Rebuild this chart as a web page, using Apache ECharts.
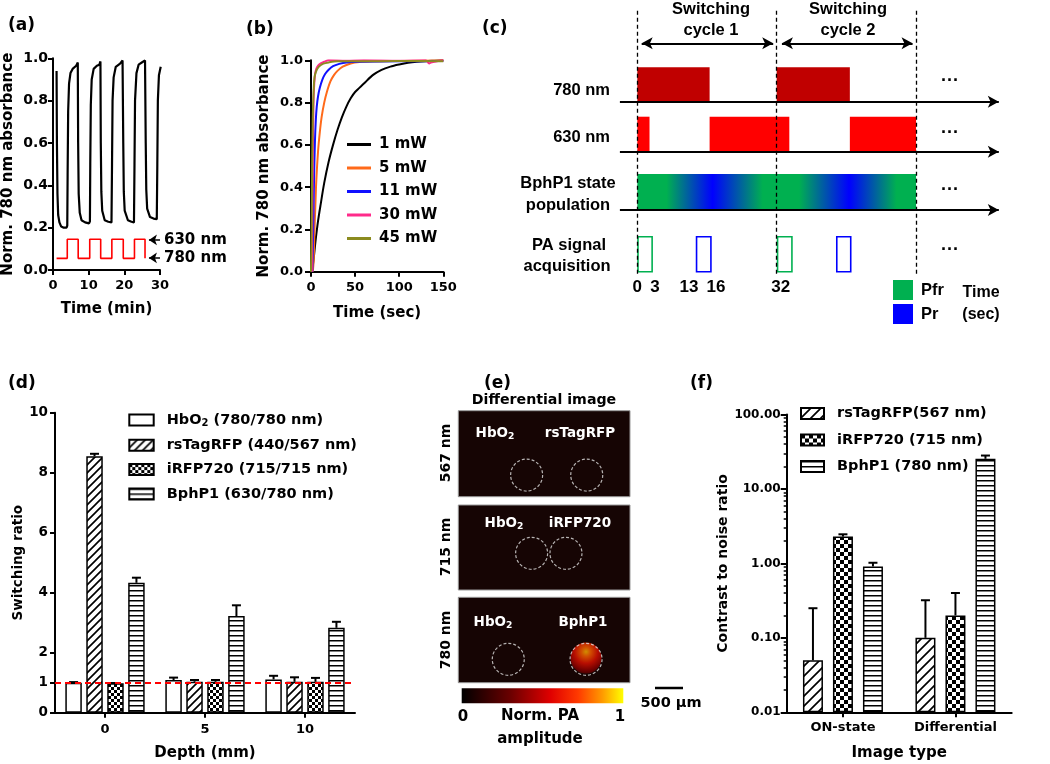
<!DOCTYPE html>
<html>
<head>
<meta charset="utf-8">
<script src="https://cdn.jsdelivr.net/npm/echarts@6/dist/echarts.min.js"></script>
<style>
  html, body { margin: 0; padding: 0; background: #fff; }
  #main { width: 1050px; height: 764px; }
</style>
</head>
<body>
<div id="main"></div>
<script>
// ---------- data ----------
// (a) repeated photoswitching, [time (min), norm. absorbance]
var cycleData = [
  [1.0, 0.94], [1.1, 0.6], [1.25, 0.36], [1.45, 0.26], [1.8, 0.225], [2.3, 0.205], [3.0, 0.2], [3.8, 0.2], [4.0, 0.21],
  [4.1, 0.45], [4.25, 0.75], [4.5, 0.88], [4.9, 0.93], [5.5, 0.95], [6.5, 0.965], [6.95, 0.98],
  [7.05, 0.6], [7.2, 0.36], [7.5, 0.27], [8.0, 0.235], [9.0, 0.225], [10.1, 0.22], [10.35, 0.23],
  [10.45, 0.5], [10.6, 0.78], [10.85, 0.9], [11.4, 0.95], [12.3, 0.965], [13.0, 0.97], [13.3, 0.985],
  [13.4, 0.6], [13.55, 0.37], [13.8, 0.28], [14.5, 0.235], [15.5, 0.228], [16.4, 0.225],
  [16.55, 0.5], [16.7, 0.8], [17.0, 0.91], [17.6, 0.96], [18.8, 0.975], [19.5, 0.99],
  [19.7, 0.6], [19.85, 0.37], [20.1, 0.28], [21.0, 0.235], [22.0, 0.228], [22.7, 0.225],
  [22.85, 0.5], [23.0, 0.8], [23.4, 0.93], [24.0, 0.97], [24.9, 0.98], [25.8, 0.99],
  [26.0, 0.6], [26.15, 0.38], [26.4, 0.29], [27.2, 0.25], [28.2, 0.243], [29.1, 0.24],
  [29.25, 0.5], [29.4, 0.8], [29.7, 0.92], [30.2, 0.96]
];
var lightTime  = [1.0, 4.0, 4.0, 7.06, 7.06, 10.3, 10.3, 13.37, 13.37, 16.5, 16.5, 19.7, 19.7, 22.84, 22.84, 25.8, 25.8];
var lightLevel = [0.055, 0.055, 0.145, 0.145, 0.055, 0.055, 0.145, 0.145, 0.055, 0.055, 0.145, 0.145, 0.055, 0.055, 0.145, 0.145, 0.055];

// (b) switching kinetics at different powers, [time (sec), norm. absorbance]
var curve1mW = [[1, 0], [3, 0.06], [5, 0.14], [8, 0.24], [11, 0.32], [15, 0.42], [20, 0.52], [25, 0.6], [30, 0.67], [35, 0.73],
  [40, 0.78], [45, 0.82], [50, 0.85], [60, 0.89], [70, 0.93], [80, 0.955], [90, 0.97], [100, 0.98], [110, 0.988],
  [120, 0.993], [130, 0.996], [140, 0.998], [150, 1.0]];
var curve5mW = [[2, 0], [3, 0.05], [4, 0.2], [5, 0.32], [6, 0.43], [8, 0.57], [10, 0.66], [12, 0.73], [15, 0.8], [18, 0.85],
  [22, 0.9], [26, 0.93], [30, 0.95], [36, 0.97], [45, 0.985], [55, 0.992], [70, 0.995], [100, 0.997], [150, 1.0]];
var curve11mW = [[1.5, 0], [2.5, 0.2], [3.5, 0.45], [4.5, 0.62], [5.5, 0.72], [6.5, 0.78], [8, 0.83], [10, 0.87], [13, 0.91],
  [16, 0.935], [20, 0.955], [25, 0.972], [32, 0.983], [40, 0.99], [55, 0.993], [100, 0.995], [150, 0.997]];
var curve30mW = [[1, 0], [1.8, 0.4], [2.5, 0.7], [3.2, 0.85], [4.5, 0.93], [6, 0.96], [8, 0.975], [11, 0.985], [15, 0.993],
  [20, 1.0], [40, 0.998], [60, 1.0], [100, 0.998], [130, 1.0], [134, 0.985], [136, 0.99], [150, 1.0]];
var curve45mW = [[0, 0], [0.7, 0.2], [1.3, 0.5], [2, 0.72], [3, 0.86], [4, 0.92], [6, 0.95], [9, 0.97], [14, 0.984], [20, 0.99],
  [30, 0.995], [42, 0.995], [60, 0.995], [100, 0.997], [150, 0.995]];

// (c) timing diagram, [start, end] in sec
var pulse780 = [[0, 16.6], [32, 48.8]];
var pulse630 = [[0, 2.8], [16.6, 34.9], [48.8, 64]];
var stateBand = [[0, 64]];
var acqPfr = [[0.15, 3.4], [32.2, 35.5]];
var acqPr = [[13.6, 16.9], [45.8, 49.0]];
var cycleEdges = [0, 32, 64];
var timeTicks = [0, 3, 13, 16, 32];

// (d) switching ratio vs depth
var depths = ['0', '5', '10'];
var hbo2Ratio = [1.0, 1.09, 1.11];
var hbo2Upper = [1.02, 1.17, 1.23];
var rsTagRatio = [8.55, 1.03, 1.03];
var rsTagUpper = [8.63, 1.09, 1.18];
var irfpRatio = [0.98, 1.03, 1.03];
var irfpUpper = [0.99, 1.09, 1.16];
var bphp1Ratio = [4.33, 3.22, 2.83];
var bphp1Upper = [4.5, 3.58, 3.03];
var ratioTicks = [0, 1, 2, 4, 6, 8, 10];

// (e) ROI circles in each image (percent of image width / height units)
var roi567 = [[39.8, 12.6], [74.8, 12.6]];
var roi715 = [[42.7, 21.6], [62.7, 21.6]];
var roi780 = [[29.1, 13.7], [74.4, 13.7]];
var bphp1Spot = [[74.4, 14.5]];

// (f) contrast to noise ratio
var imageTypes = ['ON-state', 'Differential'];
var rsTagCnr = [0.05, 0.10];
var rsTagCnrUpper = [0.25, 0.32];
var irfpCnr = [2.29, 0.20];
var irfpCnrUpper = [2.46, 0.40];
var bphp1Cnr = [0.91, 25.4];
var bphp1CnrUpper = [1.02, 28.1];
var cnrMinorTicks = [0.02, 0.03, 0.04, 0.05, 0.06, 0.07, 0.08, 0.09, 0.2, 0.3, 0.4, 0.5, 0.6, 0.7, 0.8, 0.9,
  2, 3, 4, 5, 6, 7, 8, 9, 20, 30, 40, 50, 60, 70, 80, 90];

// ---------- helpers ----------
var FONT = 'DejaVu Sans';
var CFONT = 'Liberation Sans';

function makePattern(kind, cell) {
  var c = document.createElement('canvas');
  var ctx = c.getContext('2d');
  if (kind === 'diag') {
    c.width = c.height = cell;
    ctx.fillStyle = '#fff'; ctx.fillRect(0, 0, cell, cell);
    ctx.strokeStyle = '#000'; ctx.lineWidth = 1.7;
    ctx.beginPath();
    ctx.moveTo(0, cell); ctx.lineTo(cell, 0);
    ctx.moveTo(-cell / 2, cell / 2); ctx.lineTo(cell / 2, -cell / 2);
    ctx.moveTo(cell / 2, cell * 1.5); ctx.lineTo(cell * 1.5, cell / 2);
    ctx.stroke();
  } else if (kind === 'check') {
    c.width = c.height = cell * 2;
    ctx.fillStyle = '#fff'; ctx.fillRect(0, 0, cell * 2, cell * 2);
    ctx.fillStyle = '#000';
    ctx.fillRect(0, 0, cell, cell); ctx.fillRect(cell, cell, cell, cell);
  } else {
    c.width = 4; c.height = cell;
    ctx.fillStyle = '#fff'; ctx.fillRect(0, 0, 4, cell);
    ctx.fillStyle = '#000'; ctx.fillRect(0, 0, 4, 1.5);
  }
  return { image: c, repeat: 'repeat' };
}

function pairs(a, b) { return a.map(function (v, i) { return [i, v, b[i]]; }); }

function errorBars(xi, yi, data, offset) {
  return {
    type: 'custom', xAxisIndex: xi, yAxisIndex: yi, z: 5, silent: true,
    data: data,
    renderItem: function (params, api) {
      var base = api.coord([api.value(0), api.value(1)]);
      var top = api.coord([api.value(0), api.value(2)]);
      var x = base[0] + offset;
      return {
        type: 'group', children: [
          { type: 'line', shape: { x1: x, y1: base[1], x2: x, y2: top[1] }, style: { stroke: '#000', lineWidth: 2 } },
          { type: 'line', shape: { x1: x - 4.5, y1: top[1], x2: x + 4.5, y2: top[1] }, style: { stroke: '#000', lineWidth: 2 } }
        ]
      };
    }
  };
}

function spans(base, h, style) {
  return function (params, api) {
    var p0 = api.coord([api.value(0), base]);
    var p1 = api.coord([api.value(1), base + h]);
    return {
      type: 'rect',
      shape: { x: p0[0], y: p1[1], width: p1[0] - p0[0], height: p0[1] - p1[1] },
      style: style
    };
  };
}

function txt(x, y, s, size, opt) {
  opt = opt || {};
  return {
    type: 'text', x: x, y: y, rotation: opt.rot || 0, z: 50,
    style: {
      text: s, fill: opt.color || '#000',
      font: 'bold ' + size + 'px "' + (opt.family || FONT) + '"',
      align: opt.align || 'center', verticalAlign: 'middle',
      rich: opt.rich
    }
  };
}

var subRich = function (size, color) {
  return {
    s: { fontSize: size * 0.68, fontWeight: 'bold', fontFamily: FONT, fill: color, padding: [size * 0.45, 0, 0, 0] }
  };
};

var axisCommon = {
  axisLine: { show: true, lineStyle: { color: '#000', width: 2 } },
  axisTick: { show: true, lineStyle: { color: '#000', width: 2 }, length: 5 },
  splitLine: { show: false },
  axisLabel: { color: '#000', fontWeight: 'bold', fontFamily: FONT, fontSize: 13 },
  nameTextStyle: { color: '#000', fontWeight: 'bold', fontFamily: FONT, fontSize: 15 },
  nameLocation: 'middle'
};
function ax(o) { return echarts.util.merge(echarts.util.clone(axisCommon), o, true); }

var patD = { diag: makePattern('diag', 8), check: makePattern('check', 3), hor: makePattern('hor', 5) };
var patF = { diag: makePattern('diag', 10), check: makePattern('check', 4), hor: makePattern('hor', 5) };

var rows = { l780: 17, l630: 12, state: 6.17, acq: 0 };
var green = '#00b050', blue = '#0000ff';

// shifts of the time labels in (c), as drawn in the figure
var timeLabelPad = { 0: [0, 0, 0, 0], 3: [0, 0, 0, 9], 13: [0, 10, 0, 0], 16: [0, 0, 0, 18], 32: [0, 0, 0, 8] };

// ---------- chart ----------
var chart = echarts.init(document.getElementById('main'));

var dBarW = 16.5, dGap = 0.27, fBarW = 20, fGap = 0.5;
function dBar(name, vals, color) {
  return {
    type: 'bar', name: name, xAxisIndex: 3, yAxisIndex: 3, data: vals, barWidth: dBarW, barGap: (dGap * 100) + '%',
    itemStyle: { color: color, borderColor: '#000', borderWidth: 1.5 }
  };
}
function fBar(name, vals, color) {
  return {
    type: 'bar', name: name, xAxisIndex: 7, yAxisIndex: 7, data: vals, barWidth: fBarW, barGap: (fGap * 100) + '%',
    itemStyle: { color: color, borderColor: '#000', borderWidth: 1.5 }
  };
}
var dStep = dBarW * (1 + dGap), fStep = fBarW * (1 + fGap);

var legendText = { fontSize: 14.5, fontWeight: 'bold', fontFamily: FONT, color: '#000' };

var option = {
  animation: false,
  backgroundColor: '#fff',
  textStyle: { fontFamily: FONT, fontWeight: 'bold', color: '#000' },
  grid: [
    { left: 52.3, top: 58.3, width: 107.7, height: 211.7 },
    { left: 311, top: 60.3, width: 132.3, height: 211.4 },
    { left: 619.9, top: 6.7, width: 378.9, height: 270 },
    { left: 55, top: 412.7, width: 300, height: 300 },
    { left: 458.3, top: 410.7, width: 171.7, height: 86, show: true, backgroundColor: '#160504', borderColor: '#9a9a9a', borderWidth: 1 },
    { left: 458.3, top: 505, width: 171.7, height: 85, show: true, backgroundColor: '#160504', borderColor: '#9a9a9a', borderWidth: 1 },
    { left: 458.3, top: 597.3, width: 171.7, height: 85.4, show: true, backgroundColor: '#160504', borderColor: '#9a9a9a', borderWidth: 1 },
    { left: 786.7, top: 414.5, width: 225, height: 297.8 }
  ],
  xAxis: [
    ax({ gridIndex: 0, type: 'value', min: 0, max: 30, interval: 10, name: 'Time (min)', nameGap: 32, axisLabel: { margin: 9 } }),
    ax({ gridIndex: 1, type: 'value', min: 0, max: 150, interval: 50, name: 'Time (sec)', nameGap: 34, axisLabel: { margin: 9 } }),
    ax({ gridIndex: 2, type: 'value', min: -4, max: 83, axisLine: { show: false }, axisTick: { show: false },
      axisLabel: { customValues: timeTicks, fontFamily: CFONT, fontSize: 17, margin: 2,
        formatter: function (v) { return '{p' + v + '|' + v + '}'; },
        rich: {
          p0: { padding: timeLabelPad[0], fontFamily: CFONT, fontSize: 17, fontWeight: 'bold' },
          p3: { padding: timeLabelPad[3], fontFamily: CFONT, fontSize: 17, fontWeight: 'bold' },
          p13: { padding: timeLabelPad[13], fontFamily: CFONT, fontSize: 17, fontWeight: 'bold' },
          p16: { padding: timeLabelPad[16], fontFamily: CFONT, fontSize: 17, fontWeight: 'bold' },
          p32: { padding: timeLabelPad[32], fontFamily: CFONT, fontSize: 17, fontWeight: 'bold' }
        } } }),
    ax({ gridIndex: 3, type: 'category', data: depths, name: 'Depth (mm)', nameGap: 33,
      axisTick: { alignWithLabel: true }, axisLabel: { margin: 10 } }),
    { gridIndex: 4, type: 'value', min: 0, max: 100, show: false },
    { gridIndex: 5, type: 'value', min: 0, max: 100, show: false },
    { gridIndex: 6, type: 'value', min: 0, max: 100, show: false },
    ax({ gridIndex: 7, type: 'category', data: imageTypes, name: 'Image type', nameGap: 33,
      axisTick: { alignWithLabel: true }, axisLabel: { margin: 9 } })
  ],
  yAxis: [
    ax({ gridIndex: 0, type: 'value', min: 0, max: 1, interval: 0.2, name: 'Norm. 780 nm absorbance', nameGap: 37,
      axisLabel: { margin: 5, fontSize: 14, formatter: function (v) { return v.toFixed(1); } } }),
    ax({ gridIndex: 1, type: 'value', min: 0, max: 1, interval: 0.2, name: 'Norm. 780 nm absorbance', nameGap: 39,
      axisTick: { length: 6 }, axisLabel: { margin: 8, formatter: function (v) { return v.toFixed(1); } } }),
    { gridIndex: 2, type: 'value', min: -0.5, max: 26.5, show: false },
    ax({ gridIndex: 3, type: 'value', min: 0, max: 10, name: 'Switching ratio', nameGap: 24,
      nameTextStyle: { fontSize: 13.5 },
      axisTick: { customValues: ratioTicks }, axisLabel: { customValues: ratioTicks, margin: 7, fontSize: 13.5 } }),
    { gridIndex: 4, type: 'value', min: 0, max: 50, show: false },
    { gridIndex: 5, type: 'value', min: 0, max: 50, show: false },
    { gridIndex: 6, type: 'value', min: 0, max: 50, show: false },
    ax({ gridIndex: 7, type: 'log', logBase: 10, min: 0.01, max: 100, startValue: 0.01, name: 'Contrast to noise ratio', nameGap: 56,
      nameTextStyle: { fontSize: 14 }, axisTick: { length: 6 },
      axisLabel: { margin: 6, fontSize: 12, formatter: function (v) { return Number(v).toFixed(2); } } }),
    { gridIndex: 7, type: 'log', logBase: 10, min: 0.01, max: 100, position: 'left', offset: 0,
      axisLine: { show: false }, splitLine: { show: false }, axisLabel: { show: false },
      axisTick: { show: true, customValues: cnrMinorTicks, length: 3, lineStyle: { color: '#000', width: 1.5 } } }
  ],
  legend: [
    {
      data: ['1 mW', '5 mW', '11 mW', '30 mW', '45 mW'], orient: 'vertical', left: 347, top: 137, padding: 0,
      icon: 'rect', itemWidth: 24, itemHeight: 3, itemGap: 8.5, selectedMode: false,
      formatter: function (n) { return '{g|}' + n; },
      textStyle: { fontSize: 15, fontWeight: 'bold', fontFamily: FONT, color: '#000', rich: { g: { width: 3 } } }
    },
    {
      data: ['HbO2 (780/780 nm)', 'rsTagRFP (440/567 nm)', 'iRFP720 (715/715 nm)', 'BphP1 (630/780 nm)'],
      orient: 'vertical', left: 128.3, top: 412.5, padding: 0, icon: 'rect',
      itemWidth: 24.4, itemHeight: 11, itemGap: 9.3, selectedMode: false,
      formatter: function (n) { return '{g|}' + n.replace('HbO2', 'HbO{s|2}'); },
      textStyle: echarts.util.extend({
        rich: { g: { width: 8 }, s: { fontSize: 10, fontWeight: 'bold', fontFamily: FONT, padding: [7, 0, 0, 0] } }
      }, legendText)
    },
    {
      data: ['rsTagRFP(567 nm)', 'iRFP720 (715 nm)', 'BphP1 (780 nm)'],
      orient: 'vertical', left: 800, top: 406, padding: 0, icon: 'rect',
      itemWidth: 23, itemHeight: 11, itemGap: 11.5, selectedMode: false,
      formatter: function (n) { return '{g|}' + n; },
      textStyle: echarts.util.extend({ rich: { g: { width: 8 } } }, legendText)
    }
  ],
  series: [
    // (a)
    { type: 'line', xAxisIndex: 0, yAxisIndex: 0, data: cycleData, showSymbol: false, silent: true,
      lineStyle: { color: '#000', width: 2.2 }, itemStyle: { color: '#000' } },
    { type: 'line', xAxisIndex: 0, yAxisIndex: 0, showSymbol: false, silent: true,
      data: lightTime.map(function (t, i) { return [t, lightLevel[i]]; }),
      lineStyle: { color: '#ff0000', width: 1.6 }, itemStyle: { color: '#ff0000' },
      markLine: {
        silent: true, symbol: ['none', 'arrow'], symbolSize: 8, label: { show: false },
        lineStyle: { color: '#000', width: 1.5, type: 'solid' },
        data: [
          [{ coord: [30, 0.142] }, { coord: [26.9, 0.142] }],
          [{ coord: [30, 0.057] }, { coord: [26.9, 0.057] }]
        ]
      } },
    // (b)
    { type: 'line', name: '1 mW', xAxisIndex: 1, yAxisIndex: 1, data: curve1mW, showSymbol: false, smooth: 0.3,
      lineStyle: { color: '#000', width: 2 }, itemStyle: { color: '#000' } },
    { type: 'line', name: '5 mW', xAxisIndex: 1, yAxisIndex: 1, data: curve5mW, showSymbol: false, smooth: 0.3,
      lineStyle: { color: '#ff6a1a', width: 2 }, itemStyle: { color: '#ff6a1a' } },
    { type: 'line', name: '11 mW', xAxisIndex: 1, yAxisIndex: 1, data: curve11mW, showSymbol: false, smooth: 0.3,
      lineStyle: { color: '#1010ff', width: 2 }, itemStyle: { color: '#1010ff' } },
    { type: 'line', name: '30 mW', xAxisIndex: 1, yAxisIndex: 1, data: curve30mW, showSymbol: false, smooth: 0.3,
      lineStyle: { color: '#ff2a8a', width: 2 }, itemStyle: { color: '#ff2a8a' } },
    { type: 'line', name: '45 mW', xAxisIndex: 1, yAxisIndex: 1, data: curve45mW, showSymbol: false, smooth: 0.3,
      lineStyle: { color: '#8b8b1f', width: 2 }, itemStyle: { color: '#8b8b1f' } },
    // (c)
    { type: 'custom', xAxisIndex: 2, yAxisIndex: 2, data: pulse780, silent: true,
      renderItem: spans(rows.l780, 3.44, { fill: '#c00000' }) },
    { type: 'custom', xAxisIndex: 2, yAxisIndex: 2, data: pulse630, silent: true,
      renderItem: spans(rows.l630, 3.5, { fill: '#ff0000' }) },
    { type: 'custom', xAxisIndex: 2, yAxisIndex: 2, data: stateBand, silent: true,
      renderItem: spans(rows.state, 3.6, {
        fill: new echarts.graphic.LinearGradient(0, 0, 1, 0, [
          { offset: 0, color: green }, { offset: 0.105, color: green }, { offset: 0.27, color: blue },
          { offset: 0.45, color: green }, { offset: 0.58, color: green }, { offset: 0.76, color: blue },
          { offset: 0.93, color: green }, { offset: 1, color: green }
        ])
      }),
      markLine: {
        silent: true, symbol: ['none', 'arrow'], symbolSize: [9, 11], label: { show: false },
        lineStyle: { color: '#000', width: 2, type: 'solid' },
        data: [
          [{ coord: [-4, rows.l780] }, { coord: [83, rows.l780] }],
          [{ coord: [-4, rows.l630] }, { coord: [83, rows.l630] }],
          [{ coord: [-4, rows.state] }, { coord: [83, rows.state] }],
          [{ coord: [-4.4, rows.acq] }, { coord: [81, rows.acq] }],
          [{ coord: [1.0, 22.84], symbol: 'arrow' }, { coord: [31.2, 22.84] }],
          [{ coord: [33.2, 22.84], symbol: 'arrow' }, { coord: [63.2, 22.84] }]
        ].concat(cycleEdges.map(function (t) {
          return [{ coord: [t, -0.2], symbol: 'none', lineStyle: { type: [4, 3], width: 1.3 } }, { coord: [t, 26.2], symbol: 'none' }];
        }))
      } },
    { type: 'custom', xAxisIndex: 2, yAxisIndex: 2, data: acqPfr, silent: true,
      renderItem: spans(rows.acq, 3.5, { fill: 'none', stroke: green, lineWidth: 1.6 }) },
    { type: 'custom', xAxisIndex: 2, yAxisIndex: 2, data: acqPr, silent: true,
      renderItem: spans(rows.acq, 3.5, { fill: 'none', stroke: blue, lineWidth: 1.6 }) },
    // (d)
    (function () {
      var s = dBar('HbO2 (780/780 nm)', hbo2Ratio, '#fff');
      s.markLine = { silent: true, symbol: 'none', label: { show: false }, z: 10,
        lineStyle: { color: '#ff0000', type: [6, 4], width: 2 }, data: [{ yAxis: 1 }] };
      return s;
    })(),
    dBar('rsTagRFP (440/567 nm)', rsTagRatio, patD.diag),
    dBar('iRFP720 (715/715 nm)', irfpRatio, patD.check),
    dBar('BphP1 (630/780 nm)', bphp1Ratio, patD.hor),
    errorBars(3, 3, pairs(hbo2Ratio, hbo2Upper), -1.5 * dStep),
    errorBars(3, 3, pairs(rsTagRatio, rsTagUpper), -0.5 * dStep),
    errorBars(3, 3, pairs(irfpRatio, irfpUpper), 0.5 * dStep),
    errorBars(3, 3, pairs(bphp1Ratio, bphp1Upper), 1.5 * dStep),
    // (e)
    { type: 'scatter', xAxisIndex: 6, yAxisIndex: 6, data: bphp1Spot, symbolSize: 31, silent: true, z: 2,
      itemStyle: { color: { type: 'radial', x: 0.5, y: 0.3, r: 0.75, colorStops: [
        { offset: 0, color: '#ffb000' }, { offset: 0.2, color: '#ff6000' }, { offset: 0.5, color: '#e01000' },
        { offset: 0.8, color: '#8a0000' }, { offset: 1, color: '#400000' } ] } } },
    { type: 'scatter', xAxisIndex: 4, yAxisIndex: 4, data: roi567, symbolSize: 32, silent: true, z: 3,
      itemStyle: { color: 'rgba(0,0,0,0)', borderColor: '#e0e0e0', borderWidth: 1.2, borderType: [3, 2] } },
    { type: 'scatter', xAxisIndex: 5, yAxisIndex: 5, data: roi715, symbolSize: 32, silent: true, z: 3,
      itemStyle: { color: 'rgba(0,0,0,0)', borderColor: '#e0e0e0', borderWidth: 1.2, borderType: [3, 2] } },
    { type: 'scatter', xAxisIndex: 6, yAxisIndex: 6, data: roi780, symbolSize: 32, silent: true, z: 3,
      itemStyle: { color: 'rgba(0,0,0,0)', borderColor: '#e0e0e0', borderWidth: 1.2, borderType: [3, 2] } },
    // (f)
    fBar('rsTagRFP(567 nm)', rsTagCnr, patF.diag),
    fBar('iRFP720 (715 nm)', irfpCnr, patF.check),
    fBar('BphP1 (780 nm)', bphp1Cnr, patF.hor),
    errorBars(7, 7, pairs(rsTagCnr, rsTagCnrUpper), -fStep),
    errorBars(7, 7, pairs(irfpCnr, irfpCnrUpper), 0),
    errorBars(7, 7, pairs(bphp1Cnr, bphp1CnrUpper), fStep)
  ],
  graphic: [
    // panel letters
    txt(8, 26, '(a)', 17, { align: 'left' }),
    txt(246, 30, '(b)', 17, { align: 'left' }),
    txt(482, 29, '(c)', 17, { align: 'left' }),
    txt(8, 384, '(d)', 17, { align: 'left' }),
    txt(484, 384, '(e)', 17, { align: 'left' }),
    txt(690, 384, '(f)', 17, { align: 'left' }),
    // (a) annotations
    txt(164, 240, '630 nm', 15, { align: 'left' }),
    txt(164, 258, '780 nm', 15, { align: 'left' }),
    // (c) annotations
    txt(711, 9.5, 'Switching', 16.5, { family: CFONT }),
    txt(711, 30, 'cycle 1', 16.5, { family: CFONT }),
    txt(848, 9.5, 'Switching', 16.5, { family: CFONT }),
    txt(848, 30, 'cycle 2', 16.5, { family: CFONT }),
    txt(610, 90, '780 nm', 16.5, { family: CFONT, align: 'right' }),
    txt(610, 137.7, '630 nm', 16.5, { family: CFONT, align: 'right' }),
    txt(568, 183.3, 'BphP1 state', 16.5, { family: CFONT }),
    txt(568, 205, 'population', 16.5, { family: CFONT }),
    txt(569, 245.7, 'PA signal', 16.5, { family: CFONT }),
    txt(567, 266.7, 'acquisition', 16.5, { family: CFONT }),
    txt(950, 81, '···', 18, { family: CFONT }),
    txt(950, 133, '···', 18, { family: CFONT }),
    txt(950, 190, '···', 18, { family: CFONT }),
    txt(950, 250, '···', 18, { family: CFONT }),
    { type: 'rect', shape: { x: 893, y: 280, width: 20, height: 20 }, style: { fill: green } },
    { type: 'rect', shape: { x: 893, y: 304, width: 20, height: 20 }, style: { fill: blue } },
    txt(921, 290, 'Pfr', 16.5, { family: CFONT, align: 'left' }),
    txt(921, 314, 'Pr', 16.5, { family: CFONT, align: 'left' }),
    txt(981, 293, 'Time', 16, { family: CFONT }),
    txt(981, 315, '(sec)', 16, { family: CFONT }),
    // (e) annotations
    txt(544, 400, 'Differential image', 14.2),
    txt(446, 453, '567 nm', 14, { rot: Math.PI / 2 }),
    txt(446, 547, '715 nm', 14, { rot: Math.PI / 2 }),
    txt(446, 640, '780 nm', 14, { rot: Math.PI / 2 }),
    txt(495, 433.3, 'HbO{s|2}', 13.5, { color: '#fff', rich: subRich(13.5, '#fff') }),
    txt(580, 433.3, 'rsTagRFP', 13.5, { color: '#fff' }),
    txt(504, 523.3, 'HbO{s|2}', 13.5, { color: '#fff', rich: subRich(13.5, '#fff') }),
    txt(580, 523.3, 'iRFP720', 13.5, { color: '#fff' }),
    txt(493, 622.7, 'HbO{s|2}', 13.5, { color: '#fff', rich: subRich(13.5, '#fff') }),
    txt(583, 622.7, 'BphP1', 13.5, { color: '#fff' }),
    { type: 'rect', shape: { x: 461.7, y: 688.3, width: 161.6, height: 15 },
      style: { fill: new echarts.graphic.LinearGradient(0, 0, 1, 0, [
        { offset: 0, color: '#000000' }, { offset: 0.3, color: '#6a0000' }, { offset: 0.55, color: '#e00000' },
        { offset: 0.72, color: '#ff3a00' }, { offset: 0.87, color: '#ff9a00' }, { offset: 1, color: '#ffff00' } ]) } },
    txt(463, 717, '0', 15),
    txt(620, 717, '1', 15),
    txt(540, 716, 'Norm. PA', 15),
    txt(540, 739, 'amplitude', 15),
    { type: 'line', shape: { x1: 655, y1: 688, x2: 683, y2: 688 }, style: { stroke: '#000', lineWidth: 2.5 } },
    txt(671, 703, '500 μm', 14.5)
  ]
};

chart.setOption(option);
</script>
</body>
</html>
